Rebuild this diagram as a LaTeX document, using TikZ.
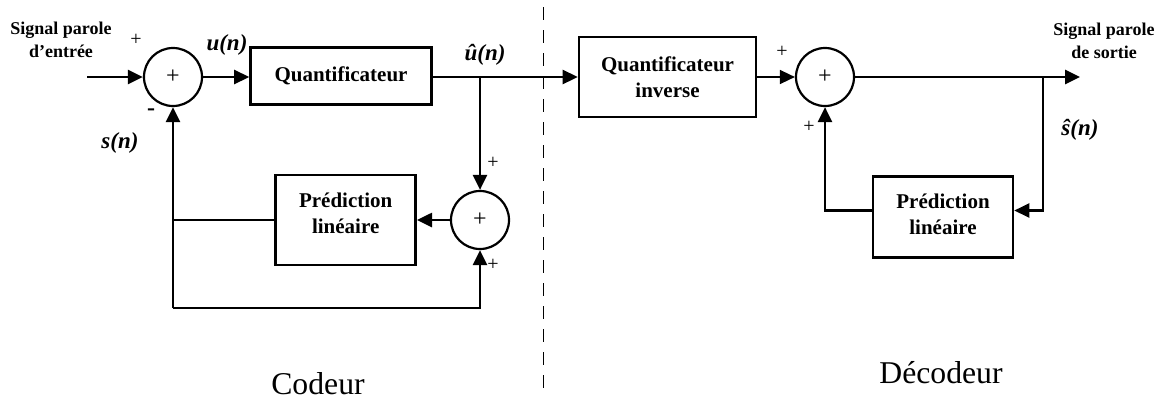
\documentclass[tikz,border=0pt]{standalone}
\usepackage{fontspec}
\setmainfont{Liberation Serif}
\usetikzlibrary{arrows.meta}
\begin{document}
\begin{tikzpicture}[x=1pt,y=-1pt,
  wire/.style={line width=2.6pt},
  arr/.style={wire,-{Triangle[length=15pt,width=14pt]}},
  blk/.style={draw,line width=2.6pt,align=center,inner sep=0pt,
    font=\fontsize{21}{26}\selectfont\bfseries},
  blktext/.style={align=center,inner sep=0pt,
    font=\fontsize{21}{26}\selectfont\bfseries},
  sum/.style={draw,circle,line width=2.2pt,minimum size=58pt,inner sep=0pt,
    font=\fontsize{24}{26}\selectfont},
  sig/.style={inner sep=0pt,font=\fontsize{23}{27}\selectfont\bfseries\itshape},
  sgn/.style={inner sep=0pt,font=\fontsize{20}{22}\selectfont},
  io/.style={align=center,inner sep=0pt,font=\fontsize{18}{23}\selectfont\bfseries},
  part/.style={inner sep=0pt,anchor=base,font=\fontsize{31.7}{36}\selectfont}]
\useasboundingbox (0,0) rectangle (1164,399);

% ---------- coder ----------
\node[sum] (s1) at (173,77) {+};
\node[blk,minimum width=181pt,minimum height=57pt] (Q) at (341,76) {Quantificateur};
\node[sum] (s2) at (480,220) {+};
\node[blk,minimum width=140pt,minimum height=90pt] (P1) at (345.7,220) {};
\node[blktext] (P1t) at (345.7,213) {Prédiction\\linéaire};

\coordinate (in) at (87,77);
\coordinate (b1) at (480,77);
\coordinate (bl) at (173,308);
\coordinate (br) at (480,308);

\draw[arr] (in) -- (s1);
\draw[arr] (s1) -- (s1 -| Q.west);
\draw[arr] (b1) -- (s2);
\draw[arr] (s2) -- (P1);
\draw[wire] (P1.west) -- (P1.west -| bl);
\draw[arr] (bl) -- (s1);
\draw[arr] (bl) -- (br) -- (s2);

% ---------- decoder ----------
\node[blk,minimum width=177pt,minimum height=80pt] (QI) at (667.5,77) {Quantificateur\\inverse};
\node[sum] (s3) at (825,77) {+};
\node[blk,minimum width=140pt,minimum height=80.6pt] (P2) at (943,217) {};
\node[blktext] (P2t) at (943,214) {Prédiction\\linéaire};

\coordinate (out) at (1080,77);
\coordinate (b2) at (1043,77);
\coordinate (r2) at (1043,210.5);
\coordinate (l2) at (825,210.5);

\draw[arr] (Q.east |- b1) -- (QI);
\draw[line width=1.5pt,-{Triangle[length=15pt,width=14pt]}] (QI) -- (s3);
\draw[arr] (s3) -- (out);
\draw[arr] (b2) -- (r2) -- (r2 -| P2.east);
\draw[arr] (r2 -| P2.west) -- (l2) -- (s3);

% ---------- separator ----------
\coordinate (dtop) at (543.3,7);
\coordinate (dbot) at (543.3,392);
\draw[line width=1.6pt,dash pattern=on 13pt off 10pt] (dtop) -- (dbot);

% ---------- labels ----------
\node[io] (inlab) at (61,40) {Signal parole\\d’entrée};
\node[io] (outlab) at (1104,40.5) {Signal parole\\de sortie};
\node[sgn] (p1) at (136,40) {+};
\node[inner sep=0pt,font=\fontsize{24}{26}\selectfont\bfseries] (m1) at (151,112) {-};
\node[sgn] (p2) at (493,163) {+};
\node[sgn] (p3) at (493,265) {+};
\node[sgn] (p4) at (782,52) {+};
\node[sgn] (p5) at (809,127) {+};
\node[sig] (un) at (227,45) {u(n)};
\node[sig] (uh) at (485,55) {û(n)};
\node[sig] (sn) at (120,143) {s(n)};
\node[sig] (sh) at (1080,130) {ŝ(n)};
\node[part] (cod) at (318,394) {Codeur};
\node[part] (dec) at (941,383) {Décodeur};
\end{tikzpicture}
\end{document}
